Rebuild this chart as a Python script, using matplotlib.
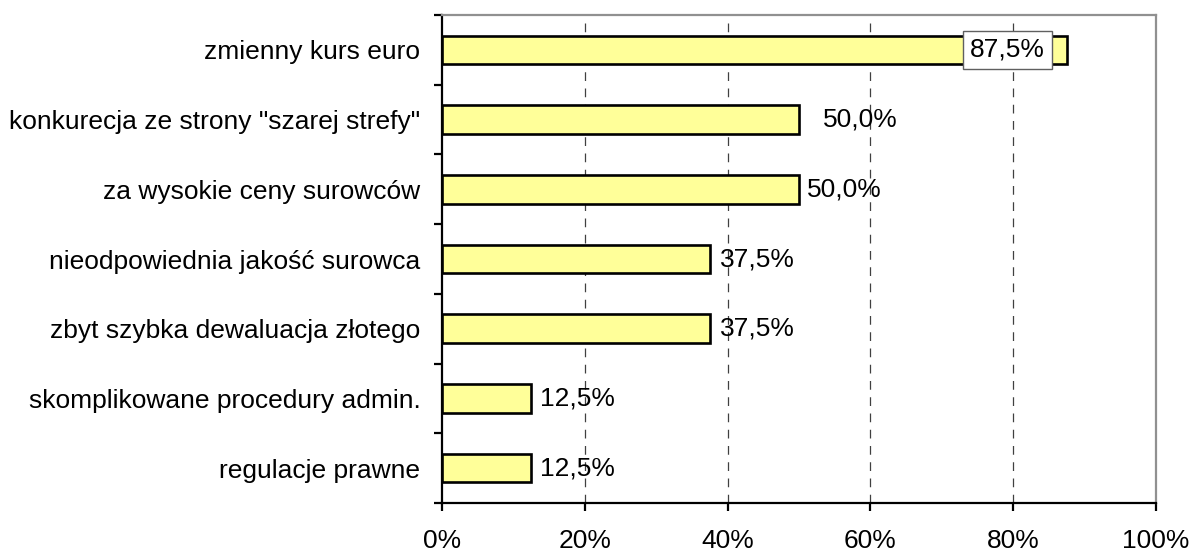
import matplotlib.pyplot as plt
from matplotlib.ticker import FixedLocator

plt.rcParams['font.family'] = ['Liberation Sans', 'DejaVu Sans']

categories = [
    "zmienny kurs euro",
    "konkurecja ze strony \"szarej strefy\"",
    "za wysokie ceny surowców",
    "nieodpowiednia jakość surowca",
    "zbyt szybka dewaluacja złotego",
    "skomplikowane procedury admin.",
    "regulacje prawne",
]
values = [87.5, 50.0, 50.0, 37.5, 37.5, 12.5, 12.5]
value_labels = ["87,5%", "50,0%", "50,0%", "37,5%", "37,5%", "12,5%", "12,5%"]
xticks = [0, 20, 40, 60, 80, 100]
xtick_labels = ["0%", "20%", "40%", "60%", "80%", "100%"]

FS = 19

fig = plt.figure(figsize=(11.91, 5.52), dpi=100)
ax = fig.add_axes([442 / 1191, 1 - 503 / 552, 714 / 1191, 488 / 552])

ypos = list(range(len(categories)))
ax.barh(ypos, values, height=0.41, color="#FFFF99", edgecolor="black",
        linewidth=1.9, zorder=3)

ax.set_xlim(0, 100)
ax.set_ylim(len(categories) - 0.5, -0.5)

# dashed grid lines
for x in xticks[1:-1]:
    ax.axvline(x, color="#404040", linewidth=0.9, linestyle=(0, (7, 6)), zorder=1)

# value labels (manual offsets like the original)
offsets = [None, 24, 8, 10, 10, 9, 9]
for i, (v, lab) in enumerate(zip(values, value_labels)):
    if i == 0:
        ax.annotate(lab, xy=(v, i), xytext=(-59, 0), textcoords="offset pixels",
                    ha="center", va="center", fontsize=FS, zorder=5,
                    bbox=dict(boxstyle="square,pad=0.26", fc="white",
                              ec="#606060", lw=1.0))
    else:
        ax.annotate(lab, xy=(v, i), xytext=(offsets[i], 0),
                    textcoords="offset pixels", ha="left", va="center",
                    fontsize=FS, zorder=5)

ax.set_yticks(ypos)
ax.set_yticklabels(categories, fontsize=FS)
ax.tick_params(axis="y", which="major", length=0, pad=15.5)
ax.yaxis.set_minor_locator(FixedLocator([i - 0.5 for i in range(len(categories) + 1)]))
ax.tick_params(axis="y", which="minor", length=6, width=1.6, direction="out")

ax.set_xticks(xticks)
ax.set_xticklabels(xtick_labels, fontsize=FS)
ax.tick_params(axis="x", length=6, width=1.6, direction="out", pad=13)

for side in ["left", "bottom"]:
    ax.spines[side].set_linewidth(1.6)
    ax.spines[side].set_color("black")
for side in ["top", "right"]:
    ax.spines[side].set_linewidth(1.6)
    ax.spines[side].set_color("#909090")

fig.savefig("out.png", dpi=100)
